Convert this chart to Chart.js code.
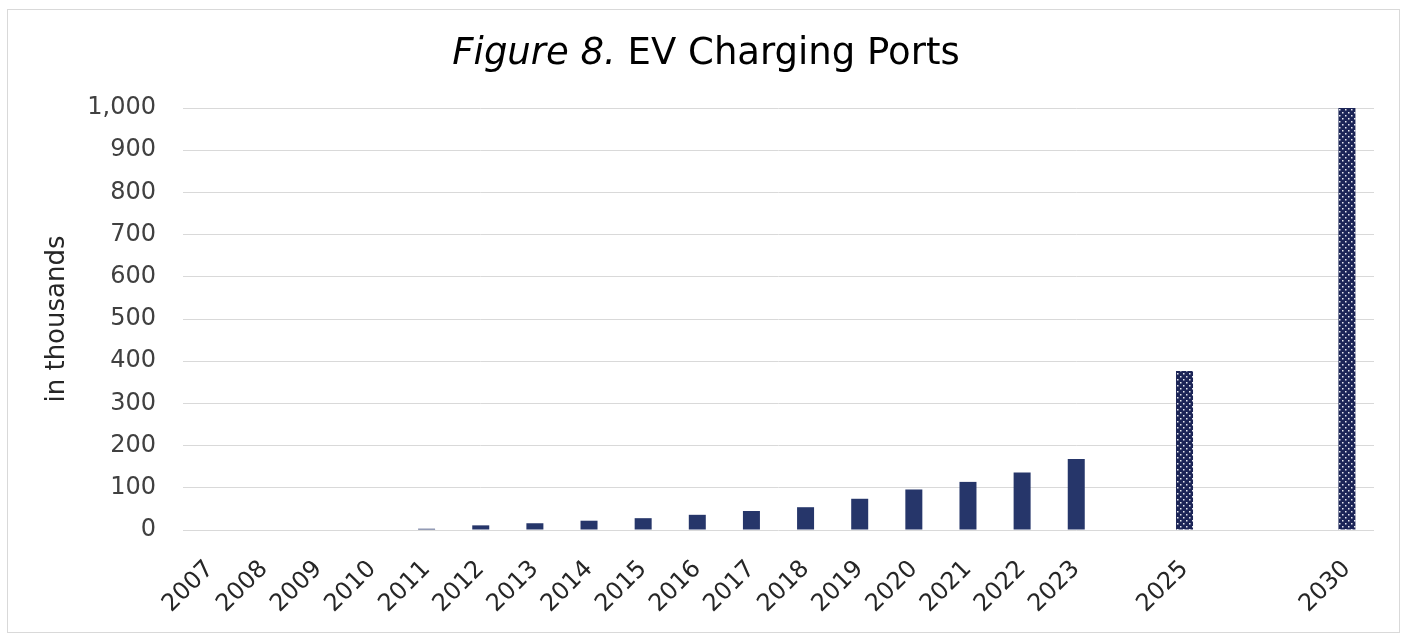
<!DOCTYPE html>
<html>
<head>
<meta charset="utf-8">
<script src="https://cdn.jsdelivr.net/npm/chart.js@4"></script>
<style>
  html, body { margin: 0; padding: 0; background: #fff; }
  #wrap { width: 1406px; height: 636px; position: relative; }
</style>
</head>
<body>
<div id="wrap"><canvas id="chart" width="1406" height="636"></canvas></div>
<script>
// categories (blank slots keep the gap before 2025 and 2030)
const years = ["2007","2008","2009","2010","2011","2012","2013","2014","2015","2016","2017","2018","2019","2020","2021","2022","2023","","2025","","","2030"];
// EV charging ports, in thousands
const ports = [0,0,0,0,3,11,16,22,28,36,45,54,74,96,114,136,168,null,377,null,null,1000];
// projected years get the dotted fill
const projected = ["2025","2030"];

const yTicks = { min: 0, max: 1000, step: 100 };

const navy = "#26366a";
const font = "'DejaVu Sans', Verdana, sans-serif";

// dotted pattern for the projections
const dots = () => {
  const c = document.createElement("canvas");
  c.width = 6; c.height = 6;
  const g = c.getContext("2d");
  g.fillStyle = "#1c2557";
  g.fillRect(0, 0, 6, 6);
  g.fillStyle = "#e8eaf2";
  g.fillRect(1, 1, 1.5, 1.5);
  g.fillRect(4, 4, 1.5, 1.5);
  return g.createPattern(c, "repeat");
};
const dotFill = dots();

// frame + two-style title
const frame = {
  id: "frame",
  afterDraw(chart) {
    const ctx = chart.ctx;
    ctx.save();
    ctx.strokeStyle = "#d9d9d9";
    ctx.lineWidth = 1;
    ctx.strokeRect(7.5, 9.5, 1392, 623);

    const a = "Figure 8.", b = " EV Charging Ports";
    const size = 37;
    ctx.fillStyle = "#000";
    ctx.textBaseline = "middle";
    ctx.font = "italic " + size + "px " + font;
    const wa = ctx.measureText(a).width;
    ctx.font = size + "px " + font;
    const wb = ctx.measureText(b).width;
    const x0 = 706 - (wa + wb) / 2;
    ctx.font = "italic " + size + "px " + font;
    ctx.fillText(a, x0, 54);
    ctx.font = size + "px " + font;
    ctx.fillText(b, x0 + wa, 54);
    ctx.restore();
  }
};

Chart.defaults.font.family = font;
Chart.defaults.color = "#404040";

new Chart(document.getElementById("chart"), {
  type: "bar",
  data: {
    labels: years,
    datasets: [{
      data: ports,
      barThickness: 17,
      inflateAmount: 0,
      backgroundColor: (ctx) => projected.includes(years[ctx.dataIndex]) ? dotFill : navy,
      borderWidth: 0
    }]
  },
  options: {
    responsive: false,
    animation: false,
    layout: { padding: { top: 108, left: 10, right: 32, bottom: 0 } },
    plugins: { legend: { display: false }, tooltip: { enabled: false } },
    scales: {
      x: {
        grid: { display: false },
        border: { display: false },
        ticks: {
          autoSkip: false,
          maxRotation: 45,
          minRotation: 45,
          padding: 17,
          font: { size: 24 },
          color: "#262626"
        },
        afterFit: (axis) => { axis.height = 106; }
      },
      y: {
        min: yTicks.min,
        max: yTicks.max,
        grid: { color: "#d9d9d9", drawTicks: false },
        border: { display: false },
        ticks: { stepSize: yTicks.step, padding: 27, font: { size: 24 } },
        title: {
          display: true,
          text: "in thousands",
          font: { size: 26 },
          color: "#262626",
          padding: { top: 32, bottom: 0 }
        },
        afterFit: (axis) => { axis.width = 173; }
      }
    }
  },
  plugins: [frame]
});
</script>
</body>
</html>
